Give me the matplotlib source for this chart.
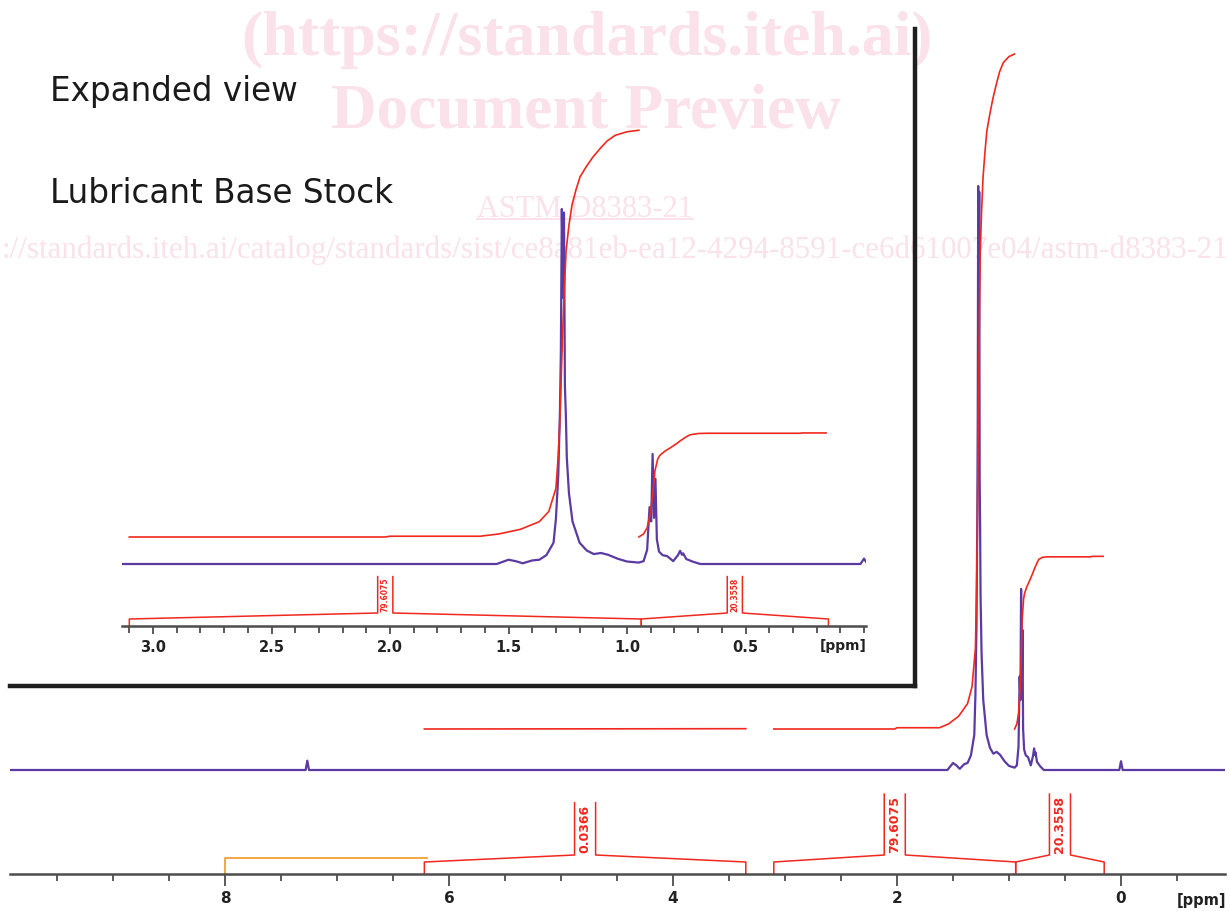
import matplotlib.pyplot as plt
from matplotlib.lines import Line2D

# 1H NMR trace: chemical shift (ppm) and intensity (% of tallest line)
spec_ppm = [9.92, 7.28, 7.265, 7.25,
            1.65, 1.55, 1.50, 1.47, 1.44, 1.40, 1.37, 1.34, 1.31,
            1.30, 1.29, 1.283, 1.279, 1.275, 1.270, 1.266, 1.262, 1.258, 1.254, 1.245, 1.23, 1.20, 1.17,
            1.14, 1.11, 1.08, 1.04, 1.00, 0.95,
            0.93, 0.915, 0.905, 0.898, 0.892, 0.886, 0.880, 0.874, 0.865, 0.85, 0.83, 0.805,
            0.785, 0.776, 0.768, 0.763, 0.75, 0.72, 0.69,
            0.015, 0.0, -0.015, -0.93]
spec_int = [0, 0, 1.6, 0,
            0, 0, 1.2, 0.8, 0.2, 1.0, 1.2, 2.5, 6,
            12.7, 25, 43, 60, 100, 75, 99, 50, 42, 30, 20, 12, 6, 3.8,
            2.8, 3.1, 2.6, 1.5, 0.7, 0.4,
            0.8, 4, 16, 12, 31, 13, 24, 7, 3.5, 2.5, 2.2, 0.8,
            2.5, 3.7, 2.6, 3.0, 1.4, 0.6, 0,
            0, 1.5, 0, 0]

# running integrals (% of total) for each integrated region
int1_ppm = [6.22, 3.35]
int1_val = [0, 0.0366]
int2_ppm = [3.10, 2.02, 2.00, 1.62, 1.54, 1.45, 1.37, 1.33, 1.30, 1.29,
            1.283, 1.275, 1.27, 1.263, 1.257, 1.245, 1.232, 1.215, 1.198, 1.17,
            1.143, 1.11, 1.084, 1.05, 1.00, 0.95]
int2_val = [0, 0, 0.15, 0.15, 0.6, 1.5, 3.0, 5.0, 9.5, 16,
            23, 35, 42, 50, 56, 61, 65, 68, 70.5, 72.6,
            74.4, 76.2, 77.5, 78.6, 79.3, 79.6]
int3_ppm = [0.95, 0.93, 0.915, 0.90, 0.89, 0.882, 0.87, 0.861, 0.84, 0.819,
            0.79, 0.776, 0.75, 0.734, 0.70, 0.66, 0.27, 0.26, 0.16]
int3_val = [0, 0.6, 1.8, 5, 9, 13, 15.3, 16, 16.8, 17.4,
            18.3, 18.8, 19.6, 20.0, 20.25, 20.3, 20.3, 20.36, 20.36]

# integration regions and their values
reg_start = [6.22, 3.10, 0.94]
reg_end = [3.35, 0.94, 0.15]
reg_label = ['0.0366', '79.6075', '20.3558']
ref_region = [8.0, 6.2]

main_ticks = [8, 6, 4, 2, 0]
main_minor = [9.5, 9.0, 8.5, 7.5, 7.0, 6.5, 5.5, 5.0, 4.5, 3.5, 3.0, 2.5, 1.5, 1.0, 0.5, -0.5]
inset_ticks = [3.0, 2.5, 2.0, 1.5, 1.0, 0.5]
inset_minor = [3.1, 2.9, 2.8, 2.7, 2.6, 2.4, 2.3, 2.2, 2.1, 1.9, 1.8, 1.7, 1.6,
               1.4, 1.3, 1.2, 1.1, 0.9, 0.8, 0.7, 0.6, 0.4, 0.3, 0.2, 0.1, 0.0]

PURPLE = '#5b3aa4'
RED = '#f0281e'
ORANGE = '#f5a033'
AXIS = '#4d4d4d'
PINK = '#fae1ea'

W, H = 1230, 912
fig = plt.figure(figsize=(W / 100, H / 100), dpi=100)


def px_axes(x0, x1, ytop, ybot):
    a = fig.add_axes([x0 / W, 1 - ybot / H, (x1 - x0) / W, (ybot - ytop) / H])
    a.set_facecolor('none')
    return a


def style_axis(a, major, minor, fmt, fs, maj_len, min_len):
    for s in ['left', 'right', 'top']:
        a.spines[s].set_visible(False)
    a.spines['bottom'].set_color(AXIS)
    a.spines['bottom'].set_linewidth(1.8)
    a.set_yticks([])
    a.set_xticks(major)
    a.set_xticklabels([fmt.format(t) for t in major], fontsize=fs, fontweight='bold', color='#222222')
    a.set_xticks(minor, minor=True)
    a.tick_params(axis='x', which='major', direction='out', length=maj_len, width=1.3, color=AXIS, pad=3)
    a.tick_params(axis='x', which='minor', direction='out', length=min_len, width=1.3, color=AXIS)


def draw_traces(a, base_s, k_s, base_i, k_i):
    a.plot(spec_ppm, [base_s + k_s * v for v in spec_int], color=PURPLE, lw=1.6, zorder=3)
    for xs, ys in [(int1_ppm, int1_val), (int2_ppm, int2_val), (int3_ppm, int3_val)]:
        a.plot(xs, [base_i + k_i * v for v in ys], color=RED, lw=1.2, zorder=4)


def draw_brackets(a, end_h, mid_h, per_char, half_w, fs):
    lo, hi = sorted(a.get_xlim())
    for s, e, lab in zip(reg_start, reg_end, reg_label):
        if s > hi + 0.01:
            continue
        c = (s + e) / 2
        top = mid_h + per_char * len(lab)
        a.plot([s, s, c + half_w, c + half_w], [0, end_h, mid_h, top], color=RED, lw=1.1)
        a.plot([c - half_w, c - half_w, e, e], [top, mid_h, end_h, 0], color=RED, lw=1.1)
        a.text(c, (mid_h + top) / 2 + 1, lab, rotation=90, ha='center', va='center',
               fontsize=fs, fontweight='bold', color=RED)


# main spectrum
ax = px_axes(10, 1225, 0, 875)
ax.set_xlim((1121 - 10) / 112, (1121 - 1225) / 112)
ax.set_ylim(0, 875)
style_axis(ax, main_ticks, main_minor, '{:d}', 11, 8.5, 5)
draw_traces(ax, 104, 5.84, 145, 8.48)
draw_brackets(ax, 12, 19, 8.7, 0.094, 9)
ax.plot([ref_region[0], ref_region[0], ref_region[1]], [0, 16, 16], color=ORANGE, lw=1.3)

# expanded view
axi = px_axes(122, 866, 30, 627)
axi.set_xlim((864 - 122) / 237, (864 - 866) / 237)
axi.set_ylim(0, 597)
style_axis(axi, inset_ticks, inset_minor, '{:.1f}', 10.5, 6, 5)
draw_traces(axi, 62, 3.55, 89, 5.11)
draw_brackets(axi, 7, 13, 5.2, 0.032, 5.5)

# frame around the expanded view
axf = px_axes(10, 915, 30, 687)
axf.set_xticks([])
axf.set_yticks([])
axf.spines['left'].set_visible(False)
axf.spines['top'].set_visible(False)
axf.spines['right'].set_linewidth(3.2)
axf.spines['bottom'].set_linewidth(3.2)
axf.spines['right'].set_color('#1e1e1e')
axf.spines['bottom'].set_color('#1e1e1e')

fig.text(1202 / W, 1 - 901 / H, '[ppm]', ha='center', va='center', fontsize=10.5,
         fontweight='bold', color='#222222')
fig.text(843 / W, 1 - 646 / H, '[ppm]', ha='center', va='center', fontsize=10,
         fontweight='bold', color='#222222')

fig.text(50 / W, 1 - 101 / H, 'Expanded view', fontsize=23.5, color='#1a1a1a', va='baseline')
fig.text(50 / W, 1 - 203 / H, 'Lubricant Base Stock', fontsize=23.5, color='#1a1a1a', va='baseline')

# watermark
wm = dict(family='Liberation Serif', zorder=-5, va='baseline', color=PINK)
fig.text(587 / W, 1 - 55 / H, '(https://standards.iteh.ai)', fontsize=46, fontweight='bold', ha='center', **wm)
fig.text(586 / W, 1 - 128 / H, 'Document Preview', fontsize=45.5, fontweight='bold', ha='center', **wm)
astm = fig.text(585 / W, 1 - 217 / H, 'ASTM D8383-21', fontsize=22, ha='center', **wm)
fig.text(1 / W, 1 - 258 / H,
         '://standards.iteh.ai/catalog/standards/sist/ce8a81eb-ea12-4294-8591-ce6d61007e04/astm-d8383-21',
         fontsize=22.3, ha='left', **wm)

fig.canvas.draw()
bb = astm.get_window_extent()
fig.add_artist(Line2D([bb.x0 / W, bb.x1 / W], [1 - 220 / H, 1 - 220 / H],
                      transform=fig.transFigure, color=PINK, lw=1.5, zorder=-5))

fig.savefig('out.png', dpi=100)
